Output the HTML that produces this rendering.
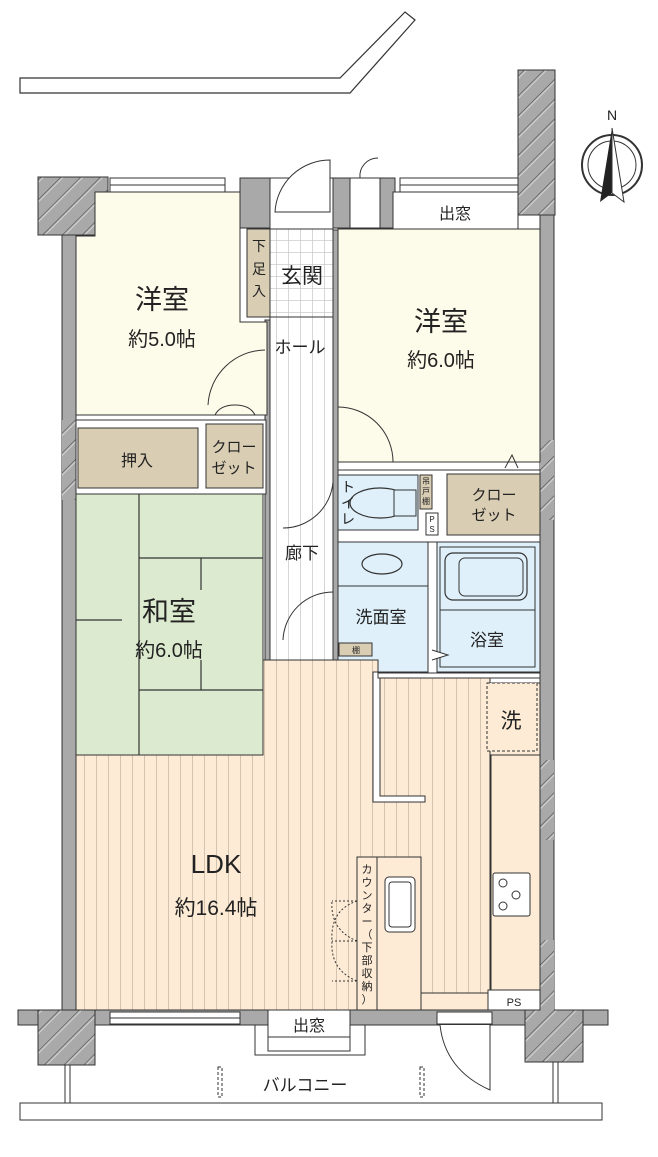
<!DOCTYPE html>
<html><head><meta charset="utf-8"><style>
html,body{margin:0;padding:0;background:#fff;}
svg{display:block;}
text{font-family:"Liberation Sans","Noto Sans CJK JP",sans-serif;fill:#222;}
</style></head><body>
<svg width="658" height="1157" viewBox="0 0 658 1157" xmlns="http://www.w3.org/2000/svg">
<defs>
<pattern id="hatch" width="14" height="14" patternUnits="userSpaceOnUse" patternTransform="rotate(45)">
<rect width="14" height="14" fill="#a9a9a9"/><line x1="0" y1="0" x2="0" y2="14" stroke="#444" stroke-width="1"/><line x1="2" y1="0" x2="2" y2="14" stroke="#ddd" stroke-width="0.8"/></pattern>
<pattern id="stripe" width="12" height="10" patternUnits="userSpaceOnUse">
<rect width="12" height="10" fill="#fdebd5"/><line x1="0.5" y1="0" x2="0.5" y2="10" stroke="#c9b9a6" stroke-width="0.8"/></pattern>
<pattern id="hstripe" width="12" height="10" patternUnits="userSpaceOnUse">
<rect width="12" height="10" fill="#fff"/><line x1="0.5" y1="0" x2="0.5" y2="10" stroke="#ccc" stroke-width="0.8"/></pattern>
<pattern id="tile" width="12" height="12" patternUnits="userSpaceOnUse">
<rect width="12" height="12" fill="#fff"/><path d="M0 0.5H12M0.5 0V12" stroke="#ccc" stroke-width="0.8"/></pattern>
</defs>

<polygon points="20,78 340,78 405,12 415,20 350,93 20,93" fill="#fff" stroke="#333" stroke-width="1.2"/>

<g fill="#a9a9a9" stroke="#333" stroke-width="1">
<rect x="62" y="232" width="14" height="780"/>
<rect x="540" y="212" width="14" height="800"/>
<rect x="18" y="1010" width="590" height="15"/>
<rect x="240" y="178" width="30" height="50"/>
<rect x="333" y="178" width="62" height="50"/>
<rect x="265" y="320" width="5" height="340"/>
<rect x="333" y="230" width="5" height="440"/>
</g>
<rect x="38" y="177" width="70" height="58" fill="url(#hatch)" stroke="#333"/>
<rect x="518" y="70" width="37" height="145" fill="url(#hatch)" stroke="#333"/>
<rect x="38" y="1010" width="57" height="55" fill="url(#hatch)" stroke="#333"/>
<rect x="525" y="1010" width="58" height="52" fill="url(#hatch)" stroke="#333"/>
<rect x="62" y="420" width="14" height="80" fill="url(#hatch)"/>
<rect x="540" y="440" width="14" height="80" fill="url(#hatch)"/>
<rect x="540" y="760" width="14" height="80" fill="url(#hatch)"/>
<rect x="540" y="940" width="14" height="80" fill="url(#hatch)"/>

<rect x="110" y="178" width="115" height="14" fill="#fff" stroke="#333"/>
<line x1="110" y1="185" x2="225" y2="185" stroke="#333"/>
<rect x="400" y="178" width="118" height="14" fill="#fff" stroke="#333"/>
<line x1="400" y1="185" x2="518" y2="185" stroke="#333"/>

<polygon points="95,192 240,192 240,322 267,322 267,415 76,415 76,236 95,236" fill="#fdfbe9" stroke="#333"/>
<rect x="393" y="192" width="125" height="37" fill="#fff" stroke="#333"/>
<rect x="338" y="229" width="202" height="233" fill="#fdfbe9" stroke="#333"/>

<rect x="270" y="229" width="63" height="88" fill="url(#tile)" stroke="#333"/>
<rect x="247" y="229" width="23" height="88" fill="#d9cdb4" stroke="#333"/>
<rect x="270" y="178" width="63" height="51" fill="#fff" stroke="#333"/>
<path d="M330 160 A55 55 0 0 0 275 212 L330 212 Z" fill="#fff" stroke="#333"/>
<rect x="350" y="178" width="30" height="50" fill="#fff" stroke="#333"/>
<path d="M378 158 A18 18 0 0 0 360 178" fill="none" stroke="#333"/>
<rect x="270" y="317" width="63" height="345" fill="url(#hstripe)" stroke="#333"/>
<path d="M265 350 A58 58 0 0 0 208 405" fill="none" stroke="#333"/>
<path d="M338 407 A55 55 0 0 1 393 462" fill="none" stroke="#333"/>
<path d="M333 482 A50 50 0 0 1 283 528" fill="none" stroke="#333"/>
<path d="M333 592 A50 50 0 0 0 283 640" fill="none" stroke="#333"/>
<path d="M273 665 A55 55 0 0 1 328 718 L273 718" fill="#fff" stroke="#333"/>

<rect x="76" y="420" width="190" height="74" fill="#fff" stroke="#333"/>
<rect x="78" y="428" width="120" height="60" fill="#d9cdb4" stroke="#333"/>
<rect x="206" y="424" width="57" height="64" fill="#d9cdb4" stroke="#333"/>
<path d="M235 405 Q220 405 215 415 M235 405 Q250 405 255 415" fill="none" stroke="#333"/>

<rect x="76" y="494" width="187" height="261" fill="#dcebcf" stroke="#333"/>
<g stroke="#333" stroke-width="1.2">
<line x1="139" y1="494" x2="139" y2="755"/>
<line x1="139" y1="558" x2="263" y2="558"/>
<line x1="139" y1="690" x2="263" y2="690"/>
<line x1="201" y1="558" x2="201" y2="590"/>
<line x1="201" y1="660" x2="201" y2="690"/>
<line x1="76" y1="620" x2="122" y2="620"/>
</g>

<rect x="338" y="470" width="202" height="72" fill="#fff" stroke="#333"/>
<rect x="338" y="475" width="80" height="55" fill="#dff0fa" stroke="#333"/>
<ellipse cx="380" cy="503" rx="30" ry="15" fill="#dff0fa" stroke="#333" stroke-width="1.2"/>
<rect x="394" y="490" width="22" height="26" fill="#dff0fa" stroke="#333"/>
<rect x="420" y="475" width="12" height="34" fill="#d9cdb4" stroke="#333"/>
<rect x="426" y="513" width="12" height="22" fill="#fff" stroke="#333"/>
<rect x="447" y="474" width="93" height="61" fill="#d9cdb4" stroke="#333"/>
<path d="M505 468 L512 455 L518 468" fill="none" stroke="#333"/>

<rect x="338" y="542" width="90" height="130" fill="#dff0fa" stroke="#333"/>
<line x1="338" y1="586" x2="428" y2="586" stroke="#333"/>
<ellipse cx="382" cy="564" rx="20" ry="10" fill="#dff0fa" stroke="#333" stroke-width="1.2"/>
<rect x="437" y="542" width="103" height="130" fill="#dff0fa" stroke="#333"/>
<rect x="440" y="547" width="95" height="120" fill="none" stroke="#333"/>
<rect x="445" y="553" width="82" height="47" rx="8" fill="#dff0fa" stroke="#333" stroke-width="1.2"/>
<rect x="459" y="558" width="64" height="38" rx="6" fill="none" stroke="#333"/>
<line x1="440" y1="610" x2="535" y2="610" stroke="#333"/>
<path d="M432 650 L448 655 L432 660" fill="#fff" stroke="#333"/>
<rect x="339" y="643" width="33" height="13" fill="#d9cdb4" stroke="#333"/>

<polygon points="76,755 263,755 263,660 270,660 333,660 378,660 378,678 490,678 490,1010 76,1010" fill="url(#stripe)" stroke="#333"/>
<rect x="490" y="683" width="50" height="307" fill="#fdebd5" stroke="#333"/>
<rect x="487" y="683" width="50" height="68" fill="#fdebd5" stroke="#333" stroke-dasharray="3,2"/>
<rect x="491" y="755" width="49" height="235" fill="#fdebd5" stroke="#333"/>
<rect x="493" y="873" width="37" height="43" rx="2" fill="#fff" stroke="#333"/>
<circle cx="503" cy="883" r="4" fill="none" stroke="#333"/><circle cx="503" cy="906" r="4" fill="none" stroke="#333"/><circle cx="516" cy="895" r="4" fill="none" stroke="#333"/>
<rect x="488" y="990" width="52" height="20" fill="#fff" stroke="#333"/>
<rect x="420" y="993" width="68" height="17" fill="#fdebd5" stroke="#333"/>
<path d="M373 672 L373 802 L425 802 L425 796 L380 796 L380 672 Z" fill="#fff" stroke="#333"/>
<rect x="378" y="673" width="162" height="5" fill="#fff" stroke="#333"/>
<rect x="357" y="857" width="64" height="153" fill="#fdebd5" stroke="#333"/>
<line x1="377" y1="857" x2="377" y2="1010" stroke="#333"/>
<rect x="385" y="877" width="30" height="55" rx="4" fill="#fff" stroke="#333"/>
<rect x="389" y="882" width="22" height="45" rx="3" fill="none" stroke="#333"/>
<path d="M357 901 L332 901 M357 981 L332 981 M357 941 L332 941" stroke="#333" stroke-dasharray="2,2"/>
<path d="M357 901 Q330 910 332 941 Q330 970 357 981" fill="none" stroke="#333" stroke-dasharray="2,2"/>
<path d="M357 941 Q330 930 332 901" fill="none" stroke="#333" stroke-dasharray="2,2"/>

<rect x="110" y="1012" width="130" height="12" fill="#fff" stroke="#333"/>
<line x1="110" y1="1018" x2="240" y2="1018" stroke="#333"/>
<rect x="255" y="1025" width="110" height="30" fill="#fff" stroke="#333"/>
<rect x="268" y="1010" width="82" height="27" fill="#fff" stroke="#333"/>
<rect x="268" y="1037" width="82" height="14" fill="#fff" stroke="#333"/>
<rect x="437" y="1012" width="55" height="12" fill="#fff" stroke="#333"/>
<path d="M440 1025 Q445 1070 490 1090 L490 1025" fill="#fff" stroke="#333"/>
<rect x="65" y="1065" width="5" height="40" fill="#fff" stroke="#333"/>
<rect x="553" y="1062" width="5" height="43" fill="#fff" stroke="#333"/>
<rect x="20" y="1103" width="582" height="17" fill="#fff" stroke="#333"/>
<rect x="218" y="1067" width="4" height="30" fill="none" stroke="#333" stroke-dasharray="3,2"/>
<rect x="420" y="1067" width="4" height="30" fill="none" stroke="#333" stroke-dasharray="3,2"/>

<circle cx="612" cy="165" r="30" fill="#fff" stroke="#333" stroke-width="2"/>
<circle cx="612" cy="165" r="24" fill="none" stroke="#333"/>
<path d="M612 128 L600 202 L612 193 Z" fill="#222"/>
<path d="M612 128 L624 202 L612 193 Z" fill="#fff" stroke="#333"/>
<text x="612" y="120" font-size="14" text-anchor="middle">N</text>

<g text-anchor="middle">
<text x="162" y="309" font-size="27">洋室</text>
<text x="162" y="346" font-size="20">約5.0帖</text>
<text x="441" y="331" font-size="27">洋室</text>
<text x="441" y="367" font-size="20">約6.0帖</text>
<text x="302" y="283" font-size="21">玄関</text>
<text x="300" y="353" font-size="17">ホール</text>
<text x="455" y="219" font-size="16">出窓</text>
<text x="137" y="466" font-size="16">押入</text>
<text x="234" y="452" font-size="15">クロー</text>
<text x="234" y="473" font-size="15">ゼット</text>
<text x="169" y="621" font-size="27">和室</text>
<text x="169" y="657" font-size="20">約6.0帖</text>
<text x="302" y="559" font-size="17">廊下</text>
<text x="381" y="623" font-size="17">洗面室</text>
<text x="487" y="646" font-size="17">浴室</text>
<text x="494" y="500" font-size="15">クロー</text>
<text x="494" y="520" font-size="15">ゼット</text>
<text x="511" y="728" font-size="21">洗</text>
<text x="216" y="873" font-size="26">LDK</text>
<text x="216" y="915" font-size="21">約16.4帖</text>
<text x="309" y="1031" font-size="16">出窓</text>
<text x="305" y="1091" font-size="17">バルコニー</text>
<text x="514" y="1006" font-size="11">PS</text>
<text x="356" y="653" font-size="8">棚</text>
<text x="259" y="251" font-size="14">下</text>
<text x="259" y="274" font-size="14">足</text>
<text x="259" y="296" font-size="14">入</text>
<text x="348" y="492" font-size="14">ト</text>
<text x="348" y="508" font-size="14">イ</text>
<text x="348" y="524" font-size="14">レ</text>
<text x="426" y="484" font-size="8">吊</text>
<text x="426" y="494" font-size="8">戸</text>
<text x="426" y="504" font-size="8">棚</text>
<text x="432" y="522" font-size="8">P</text>
<text x="432" y="532" font-size="8">S</text>
</g>
<text font-size="11" text-anchor="middle">
<tspan x="367" y="873">カ</tspan><tspan x="367" y="886">ウ</tspan><tspan x="367" y="899">ン</tspan><tspan x="367" y="912">タ</tspan><tspan x="367" y="925">ー</tspan><tspan x="367" y="938">（</tspan><tspan x="367" y="951">下</tspan><tspan x="367" y="964">部</tspan><tspan x="367" y="977">収</tspan><tspan x="367" y="990">納</tspan><tspan x="367" y="1003">）</tspan>
</text>
</svg>
</body></html>
